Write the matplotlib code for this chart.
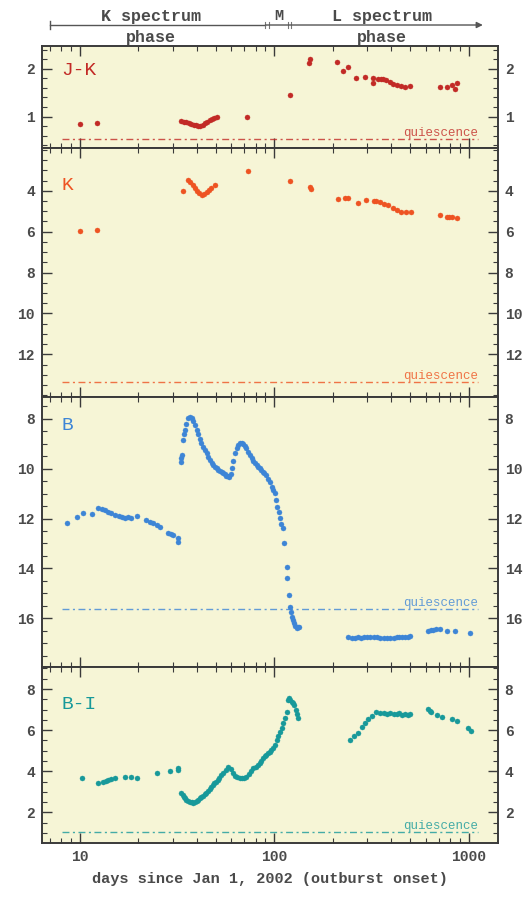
import matplotlib
matplotlib.use("Agg")
import matplotlib.pyplot as plt
from matplotlib.ticker import FixedLocator, MultipleLocator, LogLocator, NullFormatter, FixedFormatter
from matplotlib.transforms import blended_transform_factory

plt.rcParams['font.family'] = ['Liberation Mono', 'DejaVu Sans Mono']
plt.rcParams['font.weight'] = 'bold'

# ---------------- data ----------------
jk_day = [10.0, 12.2, 33.3, 34.3, 35.3, 36.3, 37.4, 38.5, 39.6, 40.6, 41.7, 42.9, 44.0,
          45.2, 46.5, 47.8, 49.2, 50.5, 72.0, 120, 151, 153, 209, 226, 240, 264, 292,
          322, 323, 341, 352, 361, 376, 393, 407, 428, 449, 470, 497, 710, 768, 815,
          847, 865]
jk_val = [0.85, 0.86, 0.90, 0.89, 0.88, 0.87, 0.85, 0.83, 0.82, 0.80, 0.81, 0.83, 0.86,
          0.89, 0.92, 0.95, 0.97, 0.99, 1.00, 1.45, 2.12, 2.20, 2.15, 1.95, 2.05, 1.80,
          1.84, 1.80, 1.71, 1.79, 1.79, 1.78, 1.76, 1.72, 1.68, 1.66, 1.64, 1.62, 1.65,
          1.61, 1.61, 1.66, 1.57, 1.70]

k_day = [10.0, 12.2, 34.0, 36.0, 37.0, 38.0, 39.0, 40.0, 41.2, 42.3, 43.5, 44.8, 46.0,
         47.5, 49.4, 73.3, 121, 152, 155, 213, 230, 240, 270, 295, 325, 335, 348, 367,
         385, 408, 428, 449, 477, 505, 710, 768, 790, 815, 865]
k_val = [5.97, 5.92, 4.00, 3.48, 3.58, 3.70, 3.85, 4.00, 4.12, 4.21, 4.15, 4.05, 3.95,
         3.85, 3.72, 3.02, 3.51, 3.83, 3.90, 4.42, 4.34, 4.34, 4.59, 4.46, 4.49, 4.50,
         4.57, 4.63, 4.70, 4.86, 4.94, 5.02, 5.02, 5.02, 5.19, 5.30, 5.30, 5.30, 5.35]

b_day = [8.55, 9.7, 10.4, 11.5, 12.4, 13.0, 13.5, 14.0, 14.5, 15.1, 15.8, 16.4, 17.0,
         17.7, 18.4, 19.6, 22.0, 22.9, 23.8, 24.8, 25.8, 28.4, 29.3, 30.2, 32.0, 32.0,
         33.3, 33.3, 33.6, 34.0, 34.3, 34.6, 35.2, 36.0, 36.8, 37.5, 38.2, 39.0, 39.8,
         40.6, 41.4, 42.2, 43.0, 43.9, 44.8, 45.7, 46.6, 47.6, 48.5, 49.5, 50.5, 51.5,
         52.6, 53.6, 54.6, 55.7, 56.7, 57.7, 58.7, 59.5, 60.3, 61.5, 62.7, 64.0, 65.2,
         66.4, 67.8, 69.2, 70.5, 71.9, 73.4, 74.9, 76.4, 78.0, 79.5, 81.1, 82.6, 84.0,
         85.5, 87.2, 88.9, 90.6, 92.5, 94.6, 96.8, 98.8, 100.7, 102.1, 103.6, 105.2,
         106.8, 108.5, 110.2, 112.0, 115.8, 116.6, 119.0, 120.3, 121.5, 122.7, 124.3,
         126.0, 128.0, 130.1, 132.0, 134.2,
         239, 250, 260, 270, 280, 290, 300, 312, 325, 338, 350, 365, 380, 395, 410, 425,
         440, 455, 470, 485, 497, 618, 637, 656, 680, 710, 768, 847, 1012]
b_val = [12.19, 11.95, 11.79, 11.82, 11.59, 11.62, 11.65, 11.72, 11.78, 11.86, 11.90,
         11.95, 11.99, 11.95, 11.97, 11.90, 12.06, 12.12, 12.19, 12.25, 12.33, 12.57,
         12.62, 12.66, 12.79, 12.93,
         9.71, 9.58, 9.45, 8.84, 8.60, 8.44, 8.20, 7.97, 7.91, 7.95, 8.10, 8.25, 8.44,
         8.62, 8.80, 8.98, 9.11, 9.25, 9.38, 9.52, 9.65, 9.76, 9.85, 9.93, 9.98, 10.04,
         10.10, 10.14, 10.18, 10.23, 10.28, 10.31, 10.34, 10.20, 9.98, 9.68, 9.38, 9.18,
         9.05, 8.98, 8.95, 9.00, 9.08, 9.18, 9.32, 9.45, 9.58, 9.70, 9.78, 9.84, 9.92,
         9.98, 10.05, 10.12, 10.18, 10.25, 10.40, 10.55, 10.72, 10.85, 10.98, 11.25,
         11.52, 11.75, 11.99, 12.20, 12.39, 12.99, 13.93, 14.40, 15.07, 15.54, 15.75,
         15.94, 16.08, 16.21, 16.32, 16.41, 16.36, 16.34,
         16.74, 16.78, 16.78, 16.77, 16.78, 16.77, 16.77, 16.76, 16.76, 16.77, 16.78,
         16.78, 16.79, 16.78, 16.78, 16.77, 16.76, 16.76, 16.75, 16.74, 16.72, 16.50,
         16.47, 16.47, 16.45, 16.45, 16.50, 16.50, 16.61]

bi_day = [10.3, 12.4, 13.2, 13.6, 14.0, 14.5, 15.1, 17.0, 18.4, 19.6, 24.8, 29.0, 32.0,
          32.0,
          33.3, 33.8, 34.3, 34.6, 35.3, 36.0, 36.8, 37.5, 38.2, 39.0, 39.8, 40.6, 41.4,
          42.2, 43.0, 43.9, 44.7, 45.7, 46.6, 47.5, 48.3, 49.2, 50.1, 51.1, 52.1, 53.4,
          54.6, 56.2, 57.8, 59.5, 61.3, 62.8, 64.5, 66.4, 68.2, 70.0, 71.9, 73.9, 75.9,
          77.9, 80.0, 82.0, 84.2, 85.8, 87.5, 89.0, 90.6, 92.8, 94.6, 96.5, 98.5, 100.5,
          102.6, 104.7, 106.8, 108.9, 111.0, 113.4, 115.8, 118.0, 119.3, 121.0, 122.7,
          124.3, 126.0, 128.6, 130.5, 132.4,
          245, 258, 270, 281, 292, 303, 316, 335, 350, 365, 380, 395, 410, 425, 440, 455,
          470, 485, 497, 618, 630, 641, 690, 730, 815, 865, 990, 1030]
bi_val = [3.66, 3.44, 3.49, 3.52, 3.57, 3.61, 3.66, 3.74, 3.70, 3.66, 3.93, 4.03, 4.14,
          4.05,
          2.93, 2.85, 2.75, 2.68, 2.62, 2.57, 2.52, 2.48, 2.44, 2.50, 2.56, 2.62, 2.68,
          2.75, 2.82, 2.88, 2.93, 3.05, 3.15, 3.25, 3.33, 3.42, 3.50, 3.58, 3.66, 3.80,
          3.92, 4.05, 4.19, 4.10, 3.90, 3.78, 3.70, 3.66, 3.65, 3.68, 3.73, 3.85, 4.00,
          4.14, 4.22, 4.30, 4.39, 4.50, 4.63, 4.72, 4.80, 4.87, 4.95, 5.03, 5.12, 5.30,
          5.52, 5.70, 5.92, 6.10, 6.33, 6.60, 6.90, 7.47, 7.55, 7.45, 7.38, 7.30, 7.22,
          6.98, 6.80, 6.57,
          5.52, 5.70, 5.85, 6.17, 6.36, 6.53, 6.69, 6.90, 6.85, 6.82, 6.80, 6.85, 6.78,
          6.80, 6.82, 6.76, 6.80, 6.75, 6.78, 7.01, 6.95, 6.90, 6.74, 6.65, 6.53, 6.44,
          6.09, 5.97]

quiescence = {'J-K': 0.53, 'K': 13.34, 'B': 15.63, 'B-I': 1.06}

x_ticks = [10, 100, 1000]
x_ticklabels = ['10', '100', '1000']

# ---------------- styling ----------------
BG = '#f6f5d6'
FRAME = '#3a3a3a'
TXT = '#4a4a4a'
XLIM = (6.38, 1409)
Q_X = (8.1, 1110)

panels = [
    # name, days, values, colour, ylim, major ticks, minor step, label y, rect
    ('J-K', jk_day, jk_val, '#c22a26', (0.34, 2.48), [1, 2], 0.2, 0.84,
     [0.080, 0.835, 0.870, 0.1137]),
    ('K', k_day, k_val, '#ee5322', (14.09, 1.91), [4, 6, 8, 10, 12], 0.5, 0.885,
     [0.080, 0.5574, 0.870, 0.2776]),
    ('B', b_day, b_val, '#3d85d6', (17.96, 7.12), [8, 10, 12, 14, 16], 0.5, 0.925,
     [0.080, 0.2564, 0.870, 0.3010]),
    ('B-I', bi_day, bi_val, '#17999a', (0.51, 9.07), [2, 4, 6, 8], 0.5, 0.835,
     [0.080, 0.0602, 0.870, 0.1962]),
]

fig = plt.figure(figsize=(5.24, 8.97), dpi=100, facecolor='white')
axes = []
for i, (name, d, v, col, ylim, major, minor, ly, rect) in enumerate(panels):
    ax = fig.add_axes(rect)
    ax.set_facecolor(BG)
    ax.set_xscale('log')
    ax.set_xlim(*XLIM)
    ax.set_ylim(*ylim)
    ax.plot(d, v, linestyle='none', marker='o', ms=3.6, mec=col, mfc=col, mew=0.3)
    qy = quiescence[name]
    ax.plot(Q_X, [qy, qy], color=col, lw=1.0, alpha=0.8,
            linestyle=(0, (5, 2.5, 1.5, 2.5)))
    ax.text(1110, qy, 'quiescence', color=col, fontsize=9, ha='right',
            va='bottom', alpha=0.8, fontweight='normal')
    ax.text(0.042, ly, name, transform=ax.transAxes, color=col, fontsize=14,
            ha='left', va='top', fontweight='normal')

    ax.yaxis.set_major_locator(FixedLocator(major))
    ax.yaxis.set_minor_locator(MultipleLocator(minor))
    ax.xaxis.set_major_locator(FixedLocator(x_ticks))
    ax.xaxis.set_minor_locator(LogLocator(base=10, subs=range(2, 10)))
    ax.xaxis.set_minor_formatter(NullFormatter())
    if i == 3:
        ax.xaxis.set_major_formatter(FixedFormatter(x_ticklabels))
        ax.set_xlabel('days since Jan 1, 2002 (outburst onset)', fontsize=11,
                      color=TXT, labelpad=6, fontweight='bold')
    else:
        ax.xaxis.set_major_formatter(NullFormatter())
    ax.tick_params(which='both', direction='in', top=True, right=True,
                   labelright=True, color=FRAME, labelcolor=TXT, labelsize=10.5)
    ax.tick_params(which='major', length=7, width=1.0, pad=5)
    ax.tick_params(which='minor', length=3.5, width=0.8)
    for s in ax.spines.values():
        s.set_color(FRAME)
        s.set_linewidth(1.4)
    axes.append(ax)

# phase bar above the top panel
ax0 = axes[0]
tr = blended_transform_factory(ax0.transData, ax0.transAxes)
yb = 1.206
ax0.annotate('', xy=(1180, yb), xytext=(90, yb), xycoords=tr, textcoords=tr,
             arrowprops=dict(arrowstyle='-|>', color='#555555', lw=1.0,
                             mutation_scale=9, shrinkA=0, shrinkB=0),
             annotation_clip=False)
ax0.plot([7.0, 90], [yb, yb], color='#555555', lw=1.0, transform=tr, clip_on=False)
ax0.plot([7.0, 7.0], [yb - 0.04, yb + 0.04], color='#555555', lw=1.0,
         transform=tr, clip_on=False)
for xb in (90, 93.5, 118, 122):
    ax0.plot([xb, xb], [yb - 0.03, yb + 0.03], color='#777777', lw=0.8,
             transform=tr, clip_on=False)
ax0.text(23.2, 1.294, 'K spectrum', transform=tr, ha='center', va='center',
         fontsize=12, color=TXT)
ax0.text(23.2, 1.088, 'phase', transform=tr, ha='center', va='center',
         fontsize=12, color=TXT)
ax0.text(106, 1.294, 'M', transform=tr, ha='center', va='center',
         fontsize=11, color=TXT)
ax0.text(359, 1.294, 'L spectrum', transform=tr, ha='center', va='center',
         fontsize=12, color=TXT)
ax0.text(359, 1.088, 'phase', transform=tr, ha='center', va='center',
         fontsize=12, color=TXT)

fig.savefig('out.png', dpi=100, facecolor='white')
